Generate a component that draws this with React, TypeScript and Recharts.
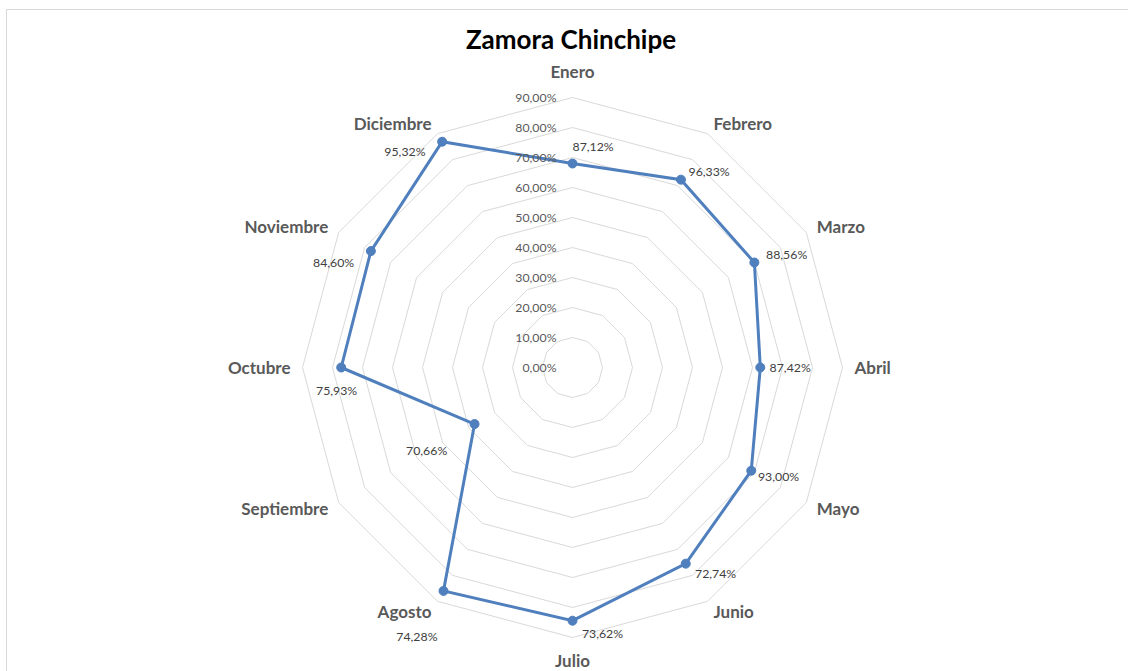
import React from 'react';
import { RadarChart, Radar, PolarGrid, PolarAngleAxis, PolarRadiusAxis } from 'recharts';

const months = ['Enero', 'Febrero', 'Marzo', 'Abril', 'Mayo', 'Junio', 'Julio', 'Agosto', 'Septiembre', 'Octubre', 'Noviembre', 'Diciembre'];
const plottedValues = [68.0, 72.3, 70.0, 62.6, 68.8, 75.5, 84.4, 86.0, 37.7, 77.1, 77.6, 86.9];
const labelValues = [87.12, 96.33, 88.56, 87.42, 93.0, 72.74, 73.62, 74.28, 70.66, 75.93, 84.6, 95.32];
const radiusTicks = [0, 10, 20, 30, 40, 50, 60, 70, 80, 90];
const title = 'Zamora Chinchipe';

// label placement nudges (layout only), relative to each point
const labelNudges: [number, number, 'start' | 'end'][] = [
  [0, -17, 'start'],
  [7.6, -8, 'start'],
  [11.7, -8, 'start'],
  [9.3, 0, 'start'],
  [6.7, 5.4, 'start'],
  [9.3, 9.4, 'start'],
  [9.4, 12.6, 'start'],
  [-6, 46, 'end'],
  [-27.3, 26, 'end'],
  [16, 23.4, 'end'],
  [-16.7, 11.6, 'end'],
  [-16.6, 9.3, 'end'],
];

const data = months.map((m, i) => ({ month: m, value: plottedValues[i], label: labelValues[i] }));

const W = 1128;
const H = 671;
const CX = 572.5;
const CY = 367.5;
const R = 270;
const FONT = 'Lato, "Open Sans", sans-serif';
const LINE = '#4f7fbd';

const fmt = (v: number) => v.toFixed(2).replace('.', ',') + '%';

const RadiusTick = (props: any) => {
  const { x, y, payload } = props;
  return (
    <text x={x - 16} y={y} textAnchor="end" dominantBaseline="central" fontFamily={FONT} fontSize={12.3} fill="#595959">
      {fmt(Number(payload.value))}
    </text>
  );
};

const AngleTick = (props: any) => {
  const { x, y, payload } = props;
  const dx = x - CX;
  const dy = y - CY;
  const len = Math.sqrt(dx * dx + dy * dy) || 1;
  const ux = dx / len;
  const uy = dy / len;
  const rr = 282;
  let px = CX + ux * rr;
  let py = CY + uy * rr;
  let anchor: 'start' | 'end' | 'middle' = 'middle';
  if (ux > 0.05) anchor = 'start';
  else if (ux < -0.05) anchor = 'end';
  else {
    py += uy < 0 ? -14 : 10.5;
  }
  return (
    <text x={px} y={py} textAnchor={anchor} dominantBaseline="central" fontFamily={FONT} fontSize={17} fontWeight={700} fill="#595959">
      {payload.value}
    </text>
  );
};

const DotWithLabel = (props: any) => {
  const { cx, cy, index, payload } = props;
  const n = labelNudges[index] || [8, 0, 'start'];
  const lv = payload && payload.payload ? payload.payload.label : labelValues[index];
  return (
    <g key={`dot-${index}`}>
      <circle cx={cx} cy={cy} r={4.5} fill={LINE} stroke={LINE} strokeWidth={1} />
      <text x={cx + n[0]} y={cy + n[1]} textAnchor={n[2]} dominantBaseline="central" fontFamily={FONT} fontSize={12.3} fill="#404040">
        {fmt(Number(lv ?? labelValues[index]))}
      </text>
    </g>
  );
};

export default function App() {
  return (
    <div style={{ position: 'absolute', left: 0, top: 0, width: W, height: H, overflow: 'hidden', background: '#fff' }}>
      <div style={{ position: 'absolute', left: 6, top: 9, width: 1300, height: 900, border: '1.5px solid #d9d9d9', boxSizing: 'border-box' }} />
      <div style={{ position: 'absolute', left: 0, top: 22, width: 1142, textAlign: 'center', fontFamily: FONT, fontWeight: 700, fontSize: 26, color: '#000', lineHeight: '34px' }}>
        {title}
      </div>
      <div style={{ position: 'absolute', left: 0, top: 0 }}>
        <RadarChart width={W} height={H} data={data} cx={CX} cy={CY} outerRadius={R} innerRadius={0} margin={{ top: 0, right: 0, bottom: 0, left: 0 }}>
          <PolarGrid gridType="polygon" radialLines={false} stroke="#d9d9d9" strokeWidth={1} />
          <PolarAngleAxis dataKey="month" tick={<AngleTick />} tickLine={false} axisLine={false} />
          <PolarRadiusAxis angle={90} domain={[0, 90]} ticks={radiusTicks as any} tickCount={10} tick={<RadiusTick />} axisLine={false} tickLine={false} />
          <Radar dataKey="value" stroke={LINE} strokeWidth={3} fill="none" fillOpacity={0} dot={DotWithLabel} isAnimationActive={false} />
        </RadarChart>
      </div>
    </div>
  );
}
